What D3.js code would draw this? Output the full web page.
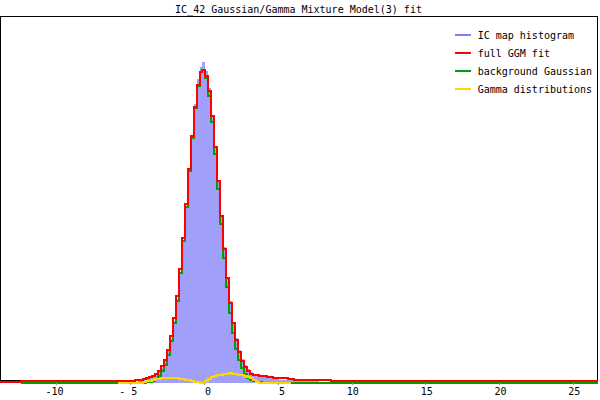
<!DOCTYPE html>
<html>
<head>
<meta charset="utf-8">
<script src="https://cdn.jsdelivr.net/npm/d3@7"></script>
<style>
  html, body { margin: 0; padding: 0; background: #fff; }
  svg { display: block; }
  text { font-family: "DejaVu Sans Mono", "Liberation Mono", monospace; font-size: 10px; fill: #000; }
</style>
</head>
<body>
<svg id="chart" width="600" height="400"></svg>
<script>
// ---------------- data ----------------
const TITLE = "IC_42 Gaussian/Gamma Mixture Model(3) fit";

// bin edges (IC map value); 60 bins
const X_EDGES = [-13.81, -12.4, -5.85,
  -4.7, -4.5, -4.3, -4.1, -3.9, -3.7, -3.5, -3.3, -3.1, -2.9, -2.7, -2.5, -2.3, -2.1,
  -1.9, -1.7, -1.5, -1.3, -1.1, -0.9, -0.7, -0.5, -0.3, -0.1, 0.1, 0.3, 0.5, 0.7, 0.9,
  1.1, 1.3, 1.5, 1.7, 1.9, 2.1, 2.3, 2.5, 2.7, 2.9, 3.1, 3.3, 3.5, 3.7, 3.9, 4.1, 4.3,
  4.5, 4.7, 4.9, 5.1, 5.3, 5.5, 5.7, 5.9, 6.1,
  7.8, 8.6, 26.68];

const HISTOGRAM = [0, 0.0008, 0.001,
  0.0015, 0.002, 0.0028, 0.0035, 0.0045, 0.006, 0.0075, 0.0095, 0.0125, 0.0175, 0.025,
  0.0365, 0.051, 0.071, 0.096, 0.127, 0.163, 0.203, 0.245, 0.285, 0.32, 0.349, 0.362,
  0.368,
  0.358, 0.338, 0.306, 0.272, 0.233, 0.193, 0.156, 0.122, 0.094, 0.07,
  0.052, 0.038, 0.028, 0.021, 0.016, 0.0125, 0.0105, 0.009, 0.008, 0.007,
  0.0065, 0.006, 0.0055, 0.005, 0.0045, 0.004, 0.0038, 0.0035, 0.0032, 0.003,
  0.0025, 0.0015, 0];

const FULL_FIT = [0.0012, 0.0028, 0.0028,
  0.003, 0.0035, 0.004, 0.0046, 0.0055, 0.0068, 0.0085, 0.0108, 0.014, 0.019, 0.0267,
  0.038, 0.0535, 0.074, 0.0999, 0.1311, 0.1669, 0.2059, 0.2457, 0.2838, 0.317, 0.342, 0.3568,
  0.3596,
  0.3523, 0.3345, 0.3063, 0.2711, 0.2316, 0.1917, 0.1539, 0.1204, 0.0918, 0.0683,
  0.0495, 0.0357, 0.0258, 0.0184, 0.0134, 0.0105, 0.0095, 0.009, 0.0085, 0.0078,
  0.0075, 0.0072, 0.0065, 0.0063, 0.0062, 0.006, 0.0053, 0.0052, 0.005, 0.0045,
  0.004, 0.003, 0.0025];

const BACKGROUND = [null, 0, 0,
  0.00004, 0.00009, 0.0002, 0.0004, 0.0008, 0.0015, 0.0027, 0.0047, 0.0081, 0.0132, 0.0211,
  0.0323, 0.0478, 0.0684, 0.0945, 0.1261, 0.1624, 0.2021, 0.2427, 0.2816, 0.3155, 0.3412, 0.3565,
  0.3596,
  0.3503, 0.3295, 0.2993, 0.2626, 0.2224, 0.182, 0.1437, 0.1097, 0.0808, 0.0575,
  0.0395, 0.0262, 0.0168, 0.0104, 0.0062, 0.0036, 0.002, 0.0011, 0.0006, 0.0003,
  0.0001, 0, 0, 0, 0, 0, 0, 0, 0, 0,
  0, 0, 0];

const GAMMAS = [null, null, 0,
  0, 0.0002, 0.0005, 0.001, 0.0018, 0.0028, 0.0038, 0.0045, 0.005, 0.0054, 0.0056,
  0.0057, 0.0057, 0.0056, 0.0054, 0.005, 0.0045, 0.0038, 0.003, 0.0022, 0.0015, 0.0008, 0.0003,
  0,
  0.002, 0.005, 0.007, 0.0085, 0.0092, 0.0097, 0.0102, 0.0107, 0.011, 0.0108,
  0.01, 0.0095, 0.009, 0.008, 0.0072, 0.006, 0.0035, 0.001, 0, 0,
  0, 0, 0, 0, 0, 0, 0, 0, 0, null,
  null, null, null];

const X_TICKS = [-10, -5, 0, 5, 10, 15, 20, 25];
const X_TICK_LABELS = ["-10", "- 5", "0", "5", "10", "15", "20", "25"];

const LEGEND_LABELS = ["IC map histogram", "full GGM fit", "background Gaussian", "Gamma distributions"];
const LEGEND_COLORS = ["#8080ff", "#ff0000", "#00a000", "#ffd700"];

// ---------------- drawing ----------------
const svg = d3.select("#chart");

const x = d3.scaleLinear().domain([-13.81, 26.68]).range([0, 598]);
const y = d3.scaleLinear().domain([0, 0.421]).range([383, 16]);

// frame
svg.append("rect")
  .attr("x", 0.5).attr("y", 16.5)
  .attr("width", 597).attr("height", 364)
  .attr("fill", "none").attr("stroke", "#000").attr("stroke-width", 1)
  .attr("shape-rendering", "crispEdges");

function stepPoints(vals) {
  const pts = [];
  vals.forEach((v, i) => {
    if (v === null) { pts.push(null); return; }
    pts.push([X_EDGES[i], v], [X_EDGES[i + 1], v]);
  });
  return pts;
}

// histogram
const area = d3.area()
  .defined(d => d !== null)
  .x(d => x(d[0]))
  .y0(y(0))
  .y1(d => y(d[1]));

svg.append("path")
  .attr("d", area(stepPoints(HISTOGRAM)))
  .attr("fill", "#a0a0fa")
  .attr("stroke", "none")
  .attr("shape-rendering", "crispEdges");

const line = d3.line()
  .defined(d => d !== null)
  .x(d => x(d[0]))
  .y(d => y(d[1]));

// background first, full fit over it, gammas on top
[[BACKGROUND, LEGEND_COLORS[2]], [FULL_FIT, LEGEND_COLORS[1]], [GAMMAS, LEGEND_COLORS[3]]]
  .forEach(([vals, col]) => {
    svg.append("path")
      .attr("d", line(stepPoints(vals)))
      .attr("fill", "none")
      .attr("stroke", col)
      .attr("stroke-width", 2)
      .attr("shape-rendering", "crispEdges");
  });

// x axis
const axis = d3.axisBottom(x)
  .tickValues(X_TICKS)
  .tickFormat((d, i) => X_TICK_LABELS[i])
  .tickSize(2)
  .tickSizeOuter(0);

const gAxis = svg.append("g")
  .attr("transform", "translate(0,383)")
  .call(axis);
gAxis.select(".domain").remove();
gAxis.selectAll(".tick line").attr("stroke", "#999").attr("shape-rendering", "crispEdges");
gAxis.selectAll(".tick text")
  .attr("font-family", "DejaVu Sans Mono, Liberation Mono, monospace")
  .attr("font-size", 10)
  .attr("fill", "#000")
  .attr("text-anchor", "end")
  .attr("x", 6.7)
  .attr("y", 12)
  .attr("dy", 0);

// legend
const legend = svg.append("g");
LEGEND_LABELS.forEach((lab, i) => {
  const cy = 35 + i * 18.1;
  legend.append("line")
    .attr("x1", 455).attr("x2", 471)
    .attr("y1", cy).attr("y2", cy)
    .attr("stroke", LEGEND_COLORS[i])
    .attr("stroke-width", 2)
    .attr("shape-rendering", "crispEdges");
  legend.append("text")
    .attr("x", 477.7).attr("y", cy + 3.9)
    .text(lab);
});

// title (drawn last so nothing covers the underscore)
svg.append("text")
  .attr("x", 298.5).attr("y", 12.5)
  .attr("text-anchor", "middle")
  .text(TITLE);
</script>
</body>
</html>
